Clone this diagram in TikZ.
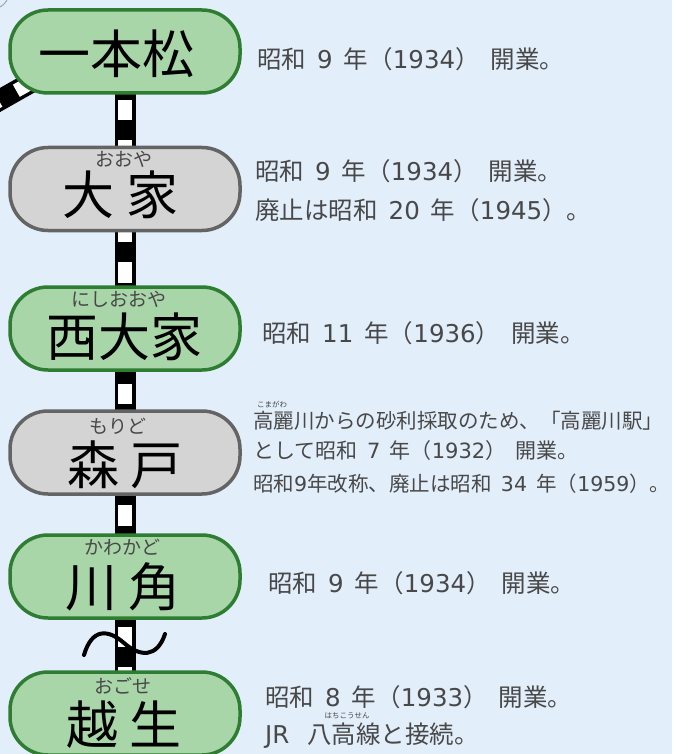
\documentclass[tikz,border=0pt]{standalone}
\usepackage{fontspec}
\setmainfont{Noto Sans CJK JP}
\newfontfamily\digfont{DejaVu Sans}
\newcommand\digs[1]{{\digfont #1}}
\newcommand\numgap{\hspace{0.45em}}
\definecolor{bg}{RGB}{226,238,250}
\definecolor{gfill}{RGB}{168,214,168}
\definecolor{gdraw}{RGB}{46,125,50}
\definecolor{sfill}{RGB}{212,212,212}
\definecolor{sdraw}{RGB}{100,100,100}
\definecolor{txt}{RGB}{72,72,72}
\begin{document}
\begin{tikzpicture}[x=1pt,y=-1pt,
 pill/.style={rectangle, rounded corners=38pt, line width=3.5pt, minimum width=230pt, minimum height=83pt, inner sep=0pt},
 stgreen/.style={pill, fill=gfill, draw=gdraw},
 stgray/.style={pill, fill=sfill, draw=sdraw},
 stname/.style={inner sep=0pt, font=\fontsize{52}{52}\selectfont, text=black},
 ruby/.style={inner sep=0pt, font=\fontsize{19}{19}\selectfont, text=txt},
 rubytiny/.style={inner sep=0pt, font=\fontsize{7.5}{7.5}\selectfont, text=txt},
 info/.style={inner sep=0pt, anchor=west, font=\fontsize{24.5}{24.5}\selectfont, text=txt},
 infosmall/.style={info, font=\fontsize{20.5}{20.5}\selectfont},
 infomid/.style={info, font=\fontsize{21}{21}\selectfont},
 railb/.style={line width=21pt, black},
 railw/.style={line width=14pt, white, dash pattern=on 20.5pt off 20pt},
 wave/.style={line width=4pt, black, line cap=round},
]
\useasboundingbox (0,0) rectangle (672,754);
\fill[bg] (0,0) rectangle (672,754);
\clip (0,0) rectangle (672,754);
\draw[gray!70, line width=1pt] (-8,-8) circle (17);
% track positions
\coordinate (s1) at (125,51.5);
\coordinate (s6) at (125,713.5);
\coordinate (w0) at (125,100);
\coordinate (d1) at (60,66);
\coordinate (d2) at (32,81.9);
\coordinate (d0) at (-20,111.3);
\draw[railb] (s1) -- (s6);
\draw[railw] (w0) -- (s6);
\draw[railb] (d1) -- (d0);
\draw[railw, dash pattern=on 18pt off 20pt] (d2) -- (d0);
% stations
\node[stgreen] (b1) at (s1) {};
\node[stgray]  (b2) at (125,189) {};
\node[stgreen] (b3) at (125,328.5) {};
\node[stgray]  (b4) at (125,452.5) {};
\node[stgreen] (b5) at (125,576.5) {};
\node[stgreen] (b6) at (s6) {};
% wave
\coordinate (v0) at (84,655);
\coordinate (v1) at (124,643);
\coordinate (v2) at (165,634);
\draw[wave] (v0) .. controls (92,628) and (108,629) .. (v1) .. controls (140,657) and (157,658) .. (v2);
% names
\node[stname] (n1) at (116.5,53.5) {一本松};
\node[stname] (n2) at (120.5,195) {大\kern12pt家};
\node[stname] (n3) at (124,336.5) {西大家};
\node[stname] (n4) at (125,465) {森\kern12pt戸};
\node[stname] (n5) at (123,586.5) {川\kern12pt角};
\node[stname] (n6) at (124,724.5) {越\kern12pt生};
% ruby
\node[ruby] (r2) at (123.5,159.5) {おおや};
\node[ruby] (r3) at (119,299.5) {にしおおや};
\node[ruby] (r4) at (118,426) {もりど};
\node[ruby] (r5) at (122.5,547.5) {かわかど};
\node[ruby] (r6) at (122.5,686) {おごせ};
% info texts
\node[info] (t1) at (257,59) {昭和\numgap\digs{9}\numgap 年（\digs{1934}）\numgap 開業。};
\node[info] (t2a) at (255,171) {昭和\numgap\digs{9}\numgap 年（\digs{1934}）\numgap 開業。};
\node[info] (t2b) at (255,210) {廃止は昭和\numgap\digs{20}\numgap 年（\digs{1945}）。};
\node[info] (t3) at (262,333) {昭和\numgap\digs{11}\numgap 年（\digs{1936}）\numgap 開業。};
\node[infosmall] (t4a) at (253,421) {高麗川からの砂利採取のため、「高麗川駅」};
\node[infomid] (t4b) at (253,451) {として昭和\numgap\digs{7}\numgap 年（\digs{1932}）\numgap 開業。};
\node[infosmall] (t4c) at (253,484) {昭和\digs{9}年改称、廃止は昭和\numgap\digs{34}\numgap 年（\digs{1959}）。};
\node[info] (t5) at (268,583) {昭和\numgap\digs{9}\numgap 年（\digs{1934}）\numgap 開業。};
\node[info] (t6a) at (265,697) {昭和\numgap\digs{8}\numgap 年（\digs{1933}）\numgap 開業。};
\node[info] (t6b) at (265,736) {\digs{JR}\kern18pt 八高線と接続。};
\node[rubytiny] (r4t) at (272,404) {こまがわ};
\node[rubytiny] (r6t) at (347,716) {はちこうせん};
\end{tikzpicture}
\end{document}
